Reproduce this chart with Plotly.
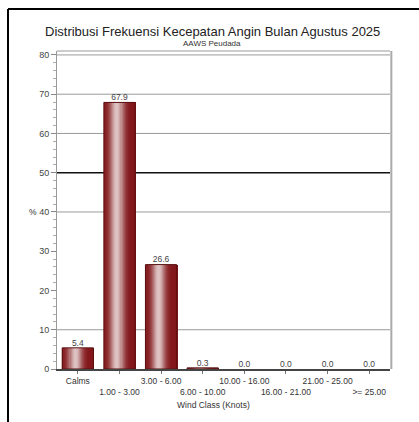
import math
import plotly.graph_objects as go

# ---- data ----
categories = ["Calms", "1.00 - 3.00", "3.00 - 6.00", "6.00 - 10.00",
              "10.00 - 16.00", "16.00 - 21.00", "21.00 - 25.00", ">= 25.00"]
percent = [5.4, 67.9, 26.6, 0.3, 0.0, 0.0, 0.0, 0.0]
value_labels = ["5.4", "67.9", "26.6", "0.3", "0.0", "0.0", "0.0", "0.0"]
y_ticks = [0, 10, 20, 30, 40, 50, 60, 70, 80]
grid_gray = [10, 40, 60, 70, 80]
grid_black = [50]

title = "Distribusi Frekuensi Kecepatan Angin Bulan Agustus 2025"
subtitle = "AAWS Peudada"
x_title = "Wind Class (Knots)"
y_title = "%"

# ---- layout constants ----
W, H = 419, 422
L, R, T, B = 57, 29, 51, 53
pw, ph = W - L - R, H - T - B
FONT = "Liberation Sans, Arial, sans-serif"

xs = list(range(len(categories)))
fig = go.Figure()

# cylinder-like gradient built from narrow overlaid strips
bar_w = 0.75
N = 30
dark = (130, 22, 26)
light = (222, 196, 196)
for i in range(N):
    t = (i + 0.5) / N
    k = math.exp(-((t - 0.42) / 0.22) ** 2)
    c = tuple(int(dark[j] + (light[j] - dark[j]) * k) for j in range(3))
    fig.add_trace(go.Bar(
        x=xs, y=percent, width=bar_w / N * 1.8,
        offset=-bar_w / 2 + i * bar_w / N,
        marker=dict(color="rgb(%d,%d,%d)" % c, line=dict(width=0)),
        showlegend=False, hoverinfo="skip"))
# outline (only where a bar exists)
fig.add_trace(go.Bar(
    x=xs, y=percent, width=bar_w, offset=-bar_w / 2,
    marker=dict(color="rgba(0,0,0,0)",
                line=dict(color="#5a1010", width=[1 if v > 0 else 0 for v in percent])),
    showlegend=False, hoverinfo="skip"))

# value labels
fig.add_trace(go.Scatter(
    x=xs, y=percent, mode="text", text=value_labels,
    textposition="top center",
    textfont=dict(size=8.5, color="#444", family=FONT),
    showlegend=False, hoverinfo="skip", cliponaxis=False))

shapes = []
for g in grid_gray:
    shapes.append(dict(type="line", xref="paper", yref="y", x0=0, x1=1, y0=g, y1=g,
                       line=dict(color="#9a9a9a", width=1), layer="below"))
for g in grid_black:
    shapes.append(dict(type="line", xref="paper", yref="y", x0=0, x1=1, y0=g, y1=g,
                       line=dict(color="#111", width=1.5), layer="below"))
# plot-area top border and right shadow
shapes.append(dict(type="line", xref="paper", yref="paper", x0=0, x1=1, y0=1, y1=1,
                   line=dict(color="#999", width=1)))
shapes.append(dict(type="line", xref="paper", yref="paper", x0=1.004, x1=1.004, y0=0, y1=1,
                   line=dict(color="#aaa", width=2)))
# outer black frame (left + top, cropped at right/bottom)
fx0 = (8 - L) / pw
fy_top = 1 + (T - 9) / ph
shapes.append(dict(type="line", xref="paper", yref="paper", x0=fx0, x1=fx0,
                   y0=fy_top, y1=-0.3, line=dict(color="#000", width=2)))
shapes.append(dict(type="line", xref="paper", yref="paper", x0=fx0, x1=1.2,
                   y0=fy_top, y1=fy_top, line=dict(color="#000", width=2)))

ticktext = [c if i % 2 == 0 else "<br>" + c for i, c in enumerate(categories)]

annotations = [
    dict(text=title, xref="paper", yref="paper", x=(212 - L) / pw, y=1 + (T - 32) / ph,
         showarrow=False, xanchor="center", yanchor="middle",
         font=dict(size=13, color="#222", family=FONT)),
    dict(text=subtitle, xref="paper", yref="paper", x=(212 - L) / pw, y=1 + (T - 43) / ph,
         showarrow=False, xanchor="center", yanchor="middle",
         font=dict(size=8, color="#333", family=FONT)),
    dict(text=x_title, xref="paper", yref="paper", x=(213 - L) / pw, y=-(405 - (H - B)) / ph,
         showarrow=False, xanchor="center", yanchor="middle",
         font=dict(size=8.5, color="#333", family=FONT)),
    dict(text=y_title, xref="paper", yref="y", x=(33 - L) / pw, y=40,
         showarrow=False, xanchor="center", yanchor="middle",
         font=dict(size=8.5, color="#333", family=FONT)),
]

fig.update_layout(
    width=W, height=H,
    margin=dict(l=L, r=R, t=T, b=B, pad=0),
    paper_bgcolor="white", plot_bgcolor="white",
    barmode="overlay", bargap=0,
    shapes=shapes, annotations=annotations,
    font=dict(family=FONT, size=8, color="#333"),
    xaxis=dict(range=[-0.5, len(categories) - 0.5], tickvals=xs, ticktext=ticktext,
               tickangle=0, automargin=False,
               showgrid=False, zeroline=False, showline=True, linecolor="#444",
               linewidth=2, ticks="outside", ticklen=3, tickcolor="#777",
               tickfont=dict(size=8.5, color="#333", family=FONT), fixedrange=True),
    yaxis=dict(range=[0, 81], tickvals=y_ticks, showgrid=False, zeroline=False,
               automargin=False,
               showline=True, linecolor="#999", linewidth=1, mirror=False,
               ticks="outside", ticklen=5, tickcolor="#888",
               minor=dict(dtick=2, ticks="outside", ticklen=3, tickcolor="#aaa",
                          showgrid=False),
               tickfont=dict(size=9, color="#444", family=FONT), fixedrange=True),
)

fig.write_html("out.html", config={"displayModeBar": False, "staticPlot": True},
               post_script="document.body.style.margin='0px';document.body.style.padding='0px';")
